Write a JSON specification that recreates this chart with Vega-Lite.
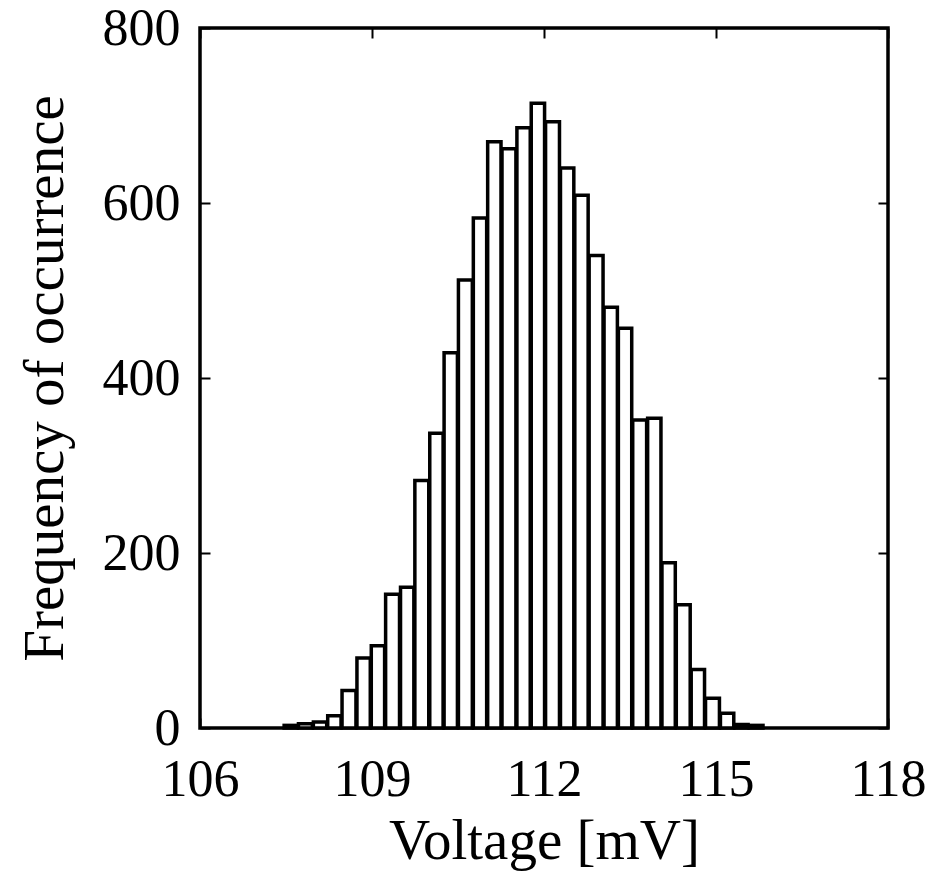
{
  "$schema": "https://vega.github.io/schema/vega-lite/v6.json",
  "width": 688,
  "height": 700,
  "autosize": "none",
  "padding": {"left": 200, "top": 28, "right": 63, "bottom": 154},
  "background": "white",
  "config": {
    "view": {"stroke": "black", "strokeWidth": 3.5},
    "font": "Liberation Serif",
    "axis": {
      "grid": false,
      "domain": false,
      "tickColor": "black",
      "tickWidth": 2,
      "tickSize": -10,
      "labelColor": "black",
      "labelFont": "Liberation Serif",
      "labelFontSize": 52,
      "titleFont": "Liberation Serif",
      "titleFontSize": 57,
      "titleFontWeight": "normal",
      "titleColor": "black"
    }
  },
  "data": {
    "values": [
      {"start": 107.45, "end": 107.70, "count": 3},
      {"start": 107.70, "end": 107.96, "count": 5},
      {"start": 107.96, "end": 108.21, "count": 7},
      {"start": 108.21, "end": 108.46, "count": 14},
      {"start": 108.46, "end": 108.72, "count": 43},
      {"start": 108.72, "end": 108.97, "count": 80},
      {"start": 108.97, "end": 109.22, "count": 94},
      {"start": 109.22, "end": 109.48, "count": 153},
      {"start": 109.48, "end": 109.73, "count": 161},
      {"start": 109.73, "end": 109.99, "count": 283},
      {"start": 109.99, "end": 110.24, "count": 337},
      {"start": 110.24, "end": 110.49, "count": 429},
      {"start": 110.49, "end": 110.75, "count": 512},
      {"start": 110.75, "end": 111.00, "count": 583},
      {"start": 111.00, "end": 111.25, "count": 670},
      {"start": 111.25, "end": 111.51, "count": 662},
      {"start": 111.51, "end": 111.76, "count": 686},
      {"start": 111.76, "end": 112.01, "count": 714},
      {"start": 112.01, "end": 112.27, "count": 693},
      {"start": 112.27, "end": 112.52, "count": 640},
      {"start": 112.52, "end": 112.77, "count": 609},
      {"start": 112.77, "end": 113.03, "count": 540},
      {"start": 113.03, "end": 113.28, "count": 481},
      {"start": 113.28, "end": 113.53, "count": 457},
      {"start": 113.53, "end": 113.79, "count": 352},
      {"start": 113.79, "end": 114.04, "count": 354},
      {"start": 114.04, "end": 114.29, "count": 189},
      {"start": 114.29, "end": 114.55, "count": 141},
      {"start": 114.55, "end": 114.80, "count": 67},
      {"start": 114.80, "end": 115.06, "count": 34},
      {"start": 115.06, "end": 115.31, "count": 17},
      {"start": 115.31, "end": 115.56, "count": 4},
      {"start": 115.56, "end": 115.82, "count": 3}
    ]
  },
  "layer": [
    {
      "mark": {"type": "bar", "fill": "white", "stroke": "black", "strokeWidth": 3.5},
      "encoding": {
        "x": {
          "field": "start", "type": "quantitative", "bin": "binned",
          "scale": {"domain": [106, 118], "nice": false, "zero": false},
          "axis": {"orient": "bottom", "values": [106, 109, 112, 115, 118], "labelPadding": 36, "labelFlush": false, "title": "Voltage [mV]", "titlePadding": 8}
        },
        "x2": {"field": "end"},
        "y": {
          "field": "count", "type": "quantitative",
          "scale": {"domain": [0, 800], "nice": false},
          "axis": {"orient": "left", "values": [0, 200, 400, 600, 800], "labelPadding": 30, "labelFlush": false, "title": "Frequency of occurrence", "titlePadding": 28}
        }
      }
    },
    {
      "mark": {"type": "bar", "opacity": 0},
      "encoding": {
        "x": {
          "field": "start", "type": "quantitative", "bin": "binned",
          "axis": {"orient": "top", "values": [106, 109, 112, 115, 118], "labels": false, "title": null}
        },
        "x2": {"field": "end"},
        "y": {
          "field": "count", "type": "quantitative",
          "axis": {"orient": "right", "values": [0, 200, 400, 600, 800], "labels": false, "title": null}
        }
      }
    }
  ],
  "resolve": {"axis": {"x": "independent", "y": "independent"}}
}
